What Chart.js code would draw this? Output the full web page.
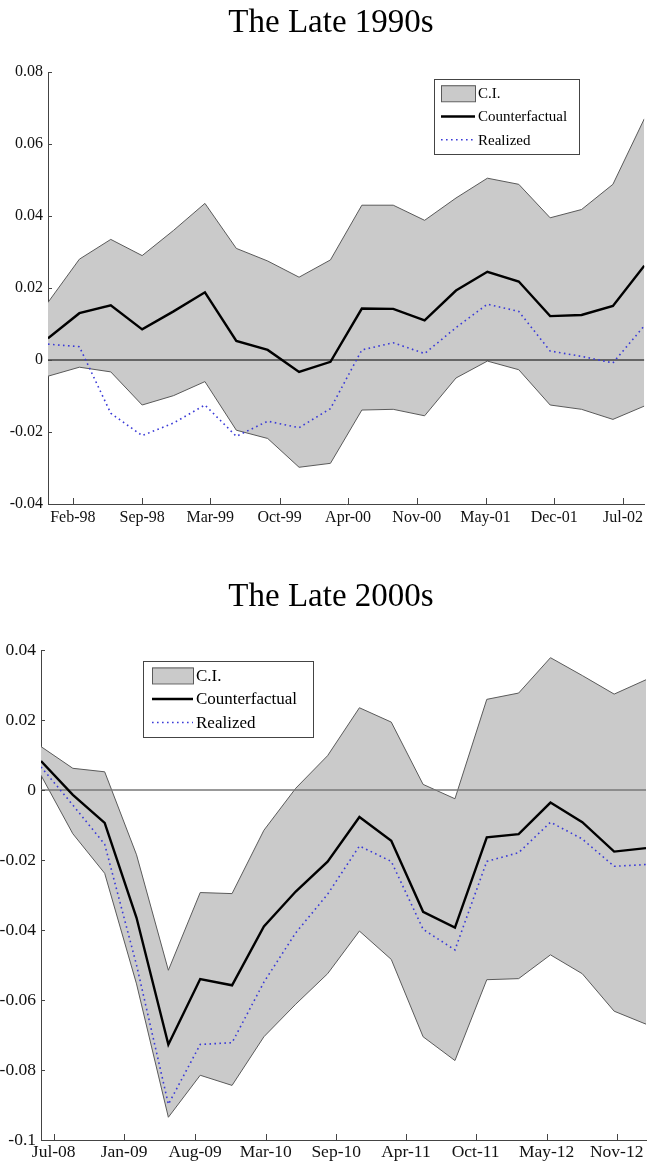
<!DOCTYPE html>
<html>
<head>
<meta charset="utf-8">
<title>Counterfactual vs realized</title>
<script src="https://cdn.jsdelivr.net/npm/chart.js@4.4.1/dist/chart.umd.min.js"></script>
<style>
  html, body { margin: 0; padding: 0; background: #fff; }
  canvas { display: block; }
</style>
</head>
<body>
<canvas id="late90s" width="647" height="560"></canvas>
<canvas id="late00s" width="647" height="603"></canvas>
<script>
// quarterly observations, x = quarter index
const upper90 = [0.016, 0.028, 0.0335, 0.029, 0.036, 0.0435, 0.031, 0.0275, 0.023, 0.0278,
  0.043, 0.043, 0.0388, 0.045, 0.0505, 0.0488, 0.0395, 0.0418, 0.0488, 0.067];
const lower90 = [-0.0045, -0.002, -0.0033, -0.0125, -0.0099, -0.006, -0.0195, -0.0218, -0.0298, -0.0287,
  -0.0139, -0.0137, -0.0155, -0.005, -0.0003, -0.0027, -0.0125, -0.0137, -0.0165, -0.0128];
const counter90 = [0.006, 0.013, 0.0152, 0.0085, 0.0135, 0.0188, 0.0053, 0.0028, -0.0033, -0.0005,
  0.0143, 0.0142, 0.011, 0.0193, 0.0245, 0.0218, 0.0122, 0.0125, 0.015, 0.0262];
const realized90 = [0.0044, 0.0037, -0.0148, -0.021, -0.0175, -0.0125, -0.0212, -0.017, -0.0188, -0.0135,
  0.0028, 0.0048, 0.0018, 0.009, 0.0155, 0.0135, 0.0025, 0.001, -0.0008, 0.0095];
const tickPos90 = [0.79, 3.0, 5.17, 7.38, 9.56, 11.75, 13.94, 16.13, 18.32];
const tickLabels90 = ['Feb-98', 'Sep-98', 'Mar-99', 'Oct-99', 'Apr-00', 'Nov-00', 'May-01', 'Dec-01', 'Jul-02'];

const upper00 = [0.0124, 0.0062, 0.0052, -0.0185, -0.0515, -0.0293, -0.0296, -0.0115, 0.0005, 0.0098,
  0.0235, 0.0194, 0.0016, -0.0025, 0.0259, 0.0277, 0.0378, 0.0327, 0.0274, 0.0315];
const lower00 = [0.0042, -0.0125, -0.0238, -0.0554, -0.0935, -0.0815, -0.0844, -0.0705, -0.0612, -0.0525,
  -0.0403, -0.0484, -0.0705, -0.0773, -0.0542, -0.0539, -0.0471, -0.0525, -0.0632, -0.0669];
const counter00 = [0.0083, -0.0014, -0.0094, -0.0365, -0.0727, -0.054, -0.0558, -0.039, -0.029, -0.0205,
  -0.0077, -0.0145, -0.0348, -0.0393, -0.0135, -0.0126, -0.0036, -0.0092, -0.0176, -0.0166];
const realized00 = [0.0066, -0.0043, -0.0155, -0.05, -0.0898, -0.0727, -0.0722, -0.0549, -0.0408, -0.0298,
  -0.016, -0.0204, -0.0398, -0.0457, -0.0204, -0.0179, -0.0092, -0.014, -0.0218, -0.0213];
const tickPos00 = [0.40, 2.61, 4.84, 7.06, 9.27, 11.46, 13.65, 15.88, 18.08];
const tickLabels00 = ['Jul-08', 'Jan-09', 'Aug-09', 'Mar-10', 'Sep-10', 'Apr-11', 'Oct-11', 'May-12', 'Nov-12'];

const SERIF = "'Liberation Serif', 'Times New Roman', serif";
const BAND = '#cacaca';
const EDGE = '#5a5a5a';
const BLUE = 'rgb(58, 58, 215)';

const pts = arr => arr.map((v, i) => ({ x: i, y: v }));

// figure title, centred a little right of the canvas middle
const figTitle = {
  id: 'figTitle',
  afterDraw(chart, args, o) {
    const { ctx } = chart;
    ctx.save();
    ctx.fillStyle = '#000';
    ctx.font = '33px ' + SERIF;
    ctx.textAlign = 'center';
    ctx.textBaseline = 'alphabetic';
    ctx.fillText(o.text, o.cx, o.baseline);
    ctx.restore();
  }
};

// boxed legend inside the plot area (MATLAB style)
const boxLegend = {
  id: 'boxLegend',
  afterDatasetsDraw(chart, args, o) {
    const { ctx, chartArea } = chart;
    const x = chartArea.left + o.x;
    const y = chartArea.top + o.y;
    ctx.save();
    ctx.fillStyle = '#fff';
    ctx.fillRect(x, y, o.w, o.h);
    ctx.strokeStyle = '#444';
    ctx.lineWidth = 1;
    ctx.strokeRect(Math.round(x) + 0.5, Math.round(y) + 0.5, o.w, o.h);

    const rows = [0.19, 0.5, 0.81].map(f => y + o.h * f);
    const sx0 = x + o.pad, sx1 = x + o.pad + o.sw;

    // C.I. swatch
    ctx.fillStyle = BAND;
    ctx.fillRect(sx0, rows[0] - 8, o.sw, 16);
    ctx.strokeStyle = EDGE;
    ctx.strokeRect(sx0 + 0.5, rows[0] - 8 + 0.5, o.sw, 16);

    // counterfactual line
    ctx.beginPath();
    ctx.strokeStyle = '#000';
    ctx.lineWidth = 2.4;
    ctx.moveTo(sx0, rows[1]);
    ctx.lineTo(sx1, rows[1]);
    ctx.stroke();

    // realized dotted line
    ctx.beginPath();
    ctx.strokeStyle = BLUE;
    ctx.lineWidth = 1.6;
    ctx.setLineDash([1.6, 3.4]);
    ctx.moveTo(sx0, rows[2]);
    ctx.lineTo(sx1, rows[2]);
    ctx.stroke();
    ctx.setLineDash([]);

    ctx.fillStyle = '#000';
    ctx.font = o.fontSize + 'px ' + SERIF;
    ctx.textBaseline = 'middle';
    ctx.textAlign = 'left';
    o.labels.forEach((t, i) => ctx.fillText(t, sx1 + 3, rows[i] + 1));
    ctx.restore();
  }
};

// tick marks pointing into the plot
const innerTicks = {
  id: 'innerTicks',
  afterDraw(chart) {
    const { ctx, chartArea, scales } = chart;
    ctx.save();
    ctx.strokeStyle = '#444';
    ctx.lineWidth = 1;
    ctx.beginPath();
    scales.x.ticks.forEach(t => {
      const px = Math.round(scales.x.getPixelForValue(t.value)) + 0.5;
      ctx.moveTo(px, chartArea.bottom);
      ctx.lineTo(px, chartArea.bottom - 6);
    });
    scales.y.ticks.forEach(t => {
      const py = Math.round(scales.y.getPixelForValue(t.value)) + 0.5;
      ctx.moveTo(chartArea.left, py);
      ctx.lineTo(chartArea.left + 4, py);
    });
    ctx.stroke();
    ctx.restore();
  }
};

function makeChart(id, s) {
  return new Chart(document.getElementById(id), {
    type: 'line',
    data: {
      datasets: [
        { label: 'lower', data: pts(s.lower), borderColor: EDGE, borderWidth: 1, fill: false, order: 4 },
        { label: 'C.I.', data: pts(s.upper), borderColor: EDGE, borderWidth: 1, backgroundColor: BAND, fill: '-1', order: 3 },
        { label: 'zero', data: [{ x: 0, y: 0 }, { x: s.upper.length - 1, y: 0 }], borderColor: s.zeroColor, borderWidth: s.zeroWidth, order: 2 },
        { label: 'Counterfactual', data: pts(s.counter), borderColor: '#000', borderWidth: 2.4, order: 1 },
        { label: 'Realized', data: pts(s.realized), borderColor: BLUE, borderWidth: 1.6, borderDash: [1.6, 3.4], order: 0 }
      ]
    },
    options: {
      responsive: false,
      animation: false,
      devicePixelRatio: 1,
      elements: { point: { radius: 0 }, line: { tension: 0 } },
      layout: { padding: { left: 0, right: 1, top: s.padTop, bottom: s.padBottom } },
      scales: {
        x: {
          type: 'linear',
          min: 0,
          max: s.upper.length - 1,
          afterBuildTicks: scale => { scale.ticks = s.tickPos.map(v => ({ value: v })); },
          afterFit: scale => { scale.height = s.xHeight; },
          ticks: {
            autoSkip: false,
            maxRotation: 0,
            padding: s.xPad,
            color: '#111',
            font: { family: SERIF, size: s.tickSize },
            callback: (v, i) => s.tickLabels[i]
          },
          grid: { display: true, drawOnChartArea: false, drawTicks: false },
          border: { display: true, color: '#444', width: 1 }
        },
        y: {
          min: s.yMin,
          max: s.yMax,
          afterFit: scale => { scale.width = s.yWidth; },
          ticks: {
            stepSize: 0.02,
            padding: 5,
            color: '#111',
            font: { family: SERIF, size: s.tickSize },
            callback: v => String(+v.toFixed(2))
          },
          grid: { display: true, drawOnChartArea: false, drawTicks: false },
          border: { display: true, color: '#444', width: 1 }
        }
      },
      plugins: {
        legend: { display: false },
        tooltip: { enabled: false },
        title: { display: false },
        filler: { drawTime: 'beforeDatasetsDraw' },
        figTitle: { text: s.title, cx: 331, baseline: s.titleBaseline },
        boxLegend: s.legend
      }
    },
    plugins: [figTitle, boxLegend, innerTicks]
  });
}

makeChart('late90s', {
  title: 'The Late 1990s',
  upper: upper90, lower: lower90, counter: counter90, realized: realized90,
  tickPos: tickPos90, tickLabels: tickLabels90,
  yMin: -0.04, yMax: 0.08, yWidth: 48, xHeight: 30, xPad: 4, padTop: 72, padBottom: 26,
  tickSize: 16, zeroColor: '#000', zeroWidth: 1, titleBaseline: 32,
  legend: { x: 386, y: 7, w: 145, h: 75, pad: 7, sw: 34, fontSize: 15,
    labels: ['C.I.', 'Counterfactual', 'Realized'] }
});

makeChart('late00s', {
  title: 'The Late 2000s',
  upper: upper00, lower: lower00, counter: counter00, realized: realized00,
  tickPos: tickPos00, tickLabels: tickLabels00,
  yMin: -0.1, yMax: 0.04, yWidth: 41, xHeight: 23, xPad: 2, padTop: 90, padBottom: 0,
  tickSize: 17.5, zeroColor: '#777', zeroWidth: 1.5, titleBaseline: 46,
  legend: { x: 102, y: 11, w: 170, h: 76, pad: 9, sw: 41, fontSize: 17,
    labels: ['C.I.', 'Counterfactual', 'Realized'] }
});
</script>
</body>
</html>
